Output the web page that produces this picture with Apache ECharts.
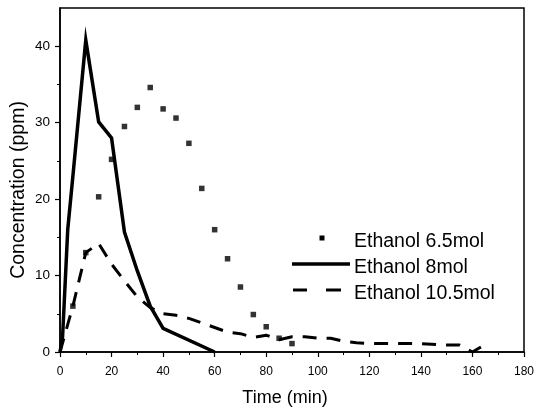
<!DOCTYPE html>
<html>
<head>
<meta charset="utf-8">
<script src="https://cdn.jsdelivr.net/npm/echarts@6/dist/echarts.min.js"></script>
<style>
  html, body { margin: 0; padding: 0; background: #fff; }
  #chart { width: 536px; height: 412px; }
</style>
</head>
<body>
<div id="chart"></div>
<script>
// Axis ticks
const xTicks = [0, 20, 40, 60, 80, 100, 120, 140, 160, 180];
const yTicks = [0, 10, 20, 30, 40];
const yMinorTicks = [5, 15, 25, 35];

// Ethanol 6.5mol (square markers)
const time65 = [5, 10, 15, 20, 25, 30, 35, 40, 45, 50, 55, 60, 65, 70, 75, 80, 85, 90];
const conc65 = [6, 13, 20.3, 25.2, 29.5, 32, 34.6, 31.8, 30.6, 27.3, 21.4, 16, 12.2, 8.5, 4.9, 3.3, 1.8, 1.1];

// Ethanol 8mol (solid line)
const time8 = [0, 1, 3, 5, 10, 15, 20, 25, 30, 35, 40, 60];
const conc8 = [0, 2, 16, 23, 40.8, 30.1, 28, 15.7, 10.6, 6, 3.1, 0];

// Ethanol 10.5mol (dashed line)
const time105 = [0, 5, 10, 15, 20, 25, 30, 35, 40, 45, 50, 55, 60, 65, 70, 75, 80, 85, 90, 95, 100, 105, 110, 115, 120, 130, 140, 150, 155, 160, 165];
const conc105 = [0, 6, 13, 14.2, 11.5, 9.3, 7.2, 5.8, 5.0, 4.8, 4.4, 3.8, 3.2, 2.6, 2.4, 1.9, 2.2, 1.6, 2.0, 2.0, 1.8, 1.8, 1.4, 1.2, 1.1, 1.1, 1.1, 0.9, 0.9, 0, 1];

const seriesNames = ['Ethanol 6.5mol', 'Ethanol 8mol', 'Ethanol 10.5mol'];

const pairs = (xs, ys) => xs.map((x, i) => [x, ys[i]]);
const FONT = '"Liberation Sans", Arial, sans-serif';

const chart = echarts.init(document.getElementById('chart'), null, { renderer: 'canvas' });

const legendFont = '19.5px "Liberation Sans", Arial, sans-serif';
const legendX = 354;
const legendRows = [242, 268, 294];

chart.setOption({
  animation: false,
  backgroundColor: '#fff',
  grid: {
    left: 60, right: 12, top: 8, bottom: 60,
    outerBoundsMode: 'none', containLabel: false,
    show: true, borderColor: '#000', borderWidth: 1.5, backgroundColor: 'transparent'
  },
  xAxis: {
    type: 'value', min: 0, max: 180, interval: 20,
    name: 'Time (min)', nameLocation: 'middle', nameGap: 37, nameMoveOverlap: false,
    nameTextStyle: { fontFamily: FONT, fontSize: 18, color: '#000', padding: [0, 14, 0, 0] },
    axisLine: { lineStyle: { color: '#000', width: 1.5 } },
    axisTick: { show: true, inside: false, length: 5, lineStyle: { color: '#000', width: 1.2 } },
    minorTick: { show: true, splitNumber: 2, length: 3, lineStyle: { color: '#000', width: 1 } },
    axisLabel: { fontFamily: FONT, fontSize: 12, color: '#000', margin: 14,
      customValues: xTicks },
    splitLine: { show: false }, minorSplitLine: { show: false }
  },
  yAxis: [{
    type: 'value', min: 0, max: 45, interval: 10,
    name: 'Concentration (ppm)', nameLocation: 'middle', nameGap: 31, nameMoveOverlap: false,
    nameTextStyle: { fontFamily: FONT, fontSize: 19.5, color: '#000', padding: [0, 20, 0, 0] },
    axisLine: { show: true, lineStyle: { color: '#000', width: 1.5 } },
    axisTick: { show: true, inside: false, length: 5, customValues: yTicks, lineStyle: { color: '#000', width: 1.2 } },
    axisLabel: { fontFamily: FONT, fontSize: 13.5, color: '#000', margin: 10, customValues: yTicks },
    splitLine: { show: false }
  }, {
    type: 'value', min: 0, max: 45, position: 'left', offset: 0,
    axisLine: { show: false },
    axisTick: { show: true, inside: false, length: 3, customValues: yMinorTicks, lineStyle: { color: '#000', width: 1 } },
    axisLabel: { show: false },
    splitLine: { show: false }
  }],
  series: [{
    name: seriesNames[0], type: 'scatter', yAxisIndex: 0,
    symbol: 'rect', symbolSize: 5.5,
    itemStyle: { color: '#000' },
    data: pairs(time65, conc65), z: 4
  }, {
    name: seriesNames[1], type: 'line', yAxisIndex: 0,
    symbol: 'none',
    lineStyle: { color: '#000', width: 3.5, join: 'miter' },
    data: pairs(time8, conc8), z: 3
  }, {
    name: seriesNames[2], type: 'line', yAxisIndex: 0,
    symbol: 'none',
    lineStyle: { color: '#000', width: 3, type: [14, 10] },
    data: pairs(time105, conc105), z: 3
  }],
  graphic: [
    { type: 'rect', shape: { x: 319.5, y: 235.5, width: 5, height: 5 }, style: { fill: '#000' } },
    { type: 'line', shape: { x1: 292, y1: 264, x2: 350, y2: 264 }, style: { stroke: '#000', lineWidth: 3.5 } },
    { type: 'line', shape: { x1: 293, y1: 290, x2: 307, y2: 290 }, style: { stroke: '#000', lineWidth: 3 } },
    { type: 'line', shape: { x1: 326, y1: 290, x2: 341, y2: 290 }, style: { stroke: '#000', lineWidth: 3 } },
    ...seriesNames.map((n, i) => ({
      type: 'text',
      style: { text: n, x: legendX, y: legendRows[i], font: legendFont, fill: '#000',
        textAlign: 'left', textVerticalAlign: 'middle' }
    }))
  ]
});
</script>
</body>
</html>
